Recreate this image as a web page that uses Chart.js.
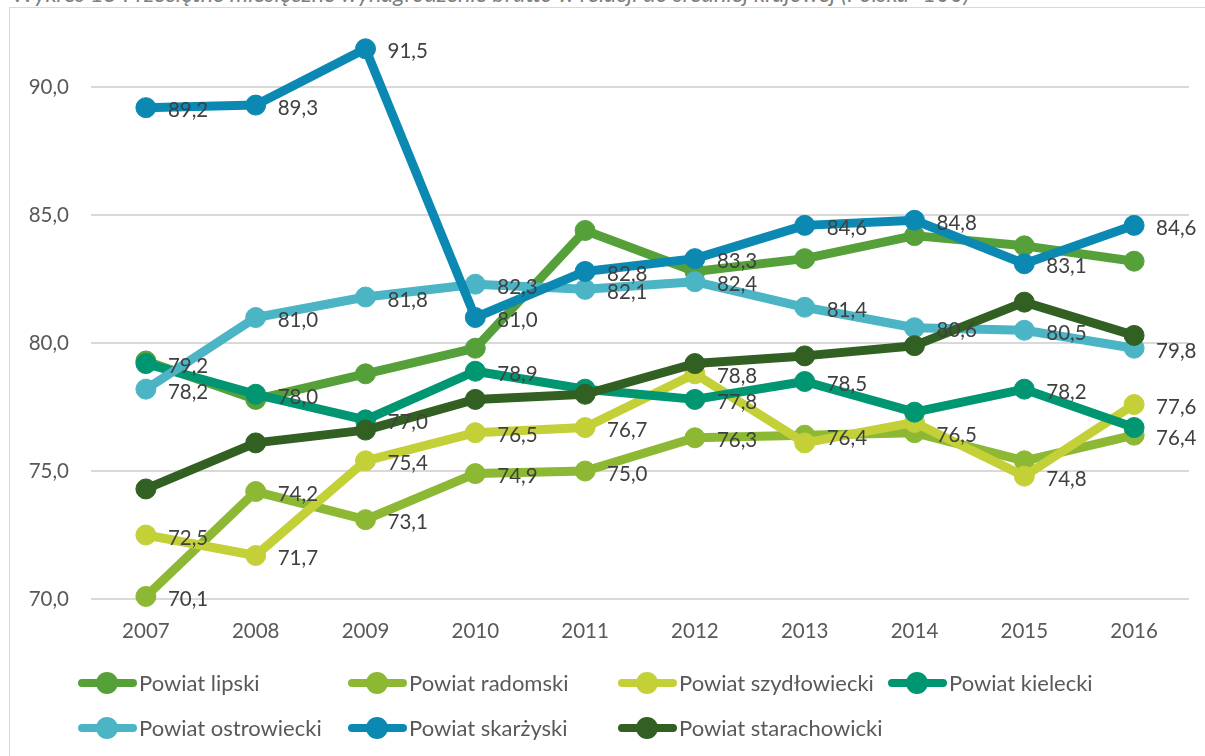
<!DOCTYPE html>
<html>
<head>
<meta charset="utf-8">
<script src="https://cdn.jsdelivr.net/npm/chart.js@4"></script>
<style>
  body { margin: 0; background: #fff; font-family: Lato, sans-serif; }
  #wrap { position: relative; width: 1205px; height: 756px; overflow: hidden; }
  #frame { position: absolute; left: 9px; top: 7px; width: 1300px; height: 800px; border: 1px solid #d9d9d9; }
  #title { position: absolute; left: 12px; top: -21px; font: italic 23.5px Lato, sans-serif; color: #7f7f7f; white-space: nowrap; }
  canvas { position: absolute; left: 0; top: 0; }
  .leg { position: absolute; height: 24px; font-size: 22px; color: #595959; line-height: 24px; white-space: nowrap; }
  .leg i { position: absolute; left: 0; top: 8px; width: 59px; height: 8px; border-radius: 4px; }
  .leg b { position: absolute; left: 18px; top: 1px; width: 22px; height: 22px; border-radius: 50%; }
  .leg span { position: absolute; left: 61px; top: 0; }
</style>
</head>
<body>
<div id="wrap">
  <div id="frame"></div>
  <div id="title">Wykres 15 Przeciętne miesięczne wynagrodzenie brutto w relacji do średniej krajowej (Polska=100)</div>
  <canvas id="chart" width="1205" height="756"></canvas>
  <div id="legend"></div>
</div>
<script>
const years = ['2007', '2008', '2009', '2010', '2011', '2012', '2013', '2014', '2015', '2016'];
const yTicks = [70, 75, 80, 85, 90];

const lipski = [79.3, 77.8, 78.8, 79.8, 84.4, 82.8, 83.3, 84.2, 83.8, 83.2];
const radomski = [70.1, 74.2, 73.1, 74.9, 75.0, 76.3, 76.4, 76.5, 75.4, 76.4];
const szydlowiecki = [72.5, 71.7, 75.4, 76.5, 76.7, 78.8, 76.1, 76.9, 74.8, 77.6];
const kielecki = [79.2, 78.0, 77.0, 78.9, 78.2, 77.8, 78.5, 77.3, 78.2, 76.7];
const ostrowiecki = [78.2, 81.0, 81.8, 82.3, 82.1, 82.4, 81.4, 80.6, 80.5, 79.8];
const skarzyski = [89.2, 89.3, 91.5, 81.0, 82.8, 83.3, 84.6, 84.8, 83.1, 84.6];
const starachowicki = [74.3, 76.1, 76.6, 77.8, 78.0, 79.2, 79.5, 79.9, 81.6, 80.3];

// which points carry a value label in the original (1 = shown)
const lblLipski = [0, 0, 0, 0, 0, 0, 0, 0, 0, 0];
const lblRadomski = [1, 1, 1, 1, 1, 1, 1, 1, 0, 1];
const lblSzydlowiecki = [1, 1, 1, 1, 1, 1, 0, 0, 1, 1];
const lblKielecki = [1, 1, 1, 1, 0, 1, 1, 0, 1, 0];
const lblOstrowiecki = [1, 1, 1, 1, 1, 1, 1, 1, 1, 1];
const lblSkarzyski = [1, 1, 1, 1, 1, 1, 1, 1, 1, 1];
const lblStarachowicki = [0, 0, 0, 0, 0, 0, 0, 0, 0, 0];

const series = [
  { name: 'Powiat lipski', data: lipski, color: '#56a03a', lbl: lblLipski },
  { name: 'Powiat radomski', data: radomski, color: '#8cb833', lbl: lblRadomski },
  { name: 'Powiat szydłowiecki', data: szydlowiecki, color: '#c3d038', lbl: lblSzydlowiecki },
  { name: 'Powiat kielecki', data: kielecki, color: '#009672', lbl: lblKielecki },
  { name: 'Powiat ostrowiecki', data: ostrowiecki, color: '#4bb5c6', lbl: lblOstrowiecki },
  { name: 'Powiat skarżyski', data: skarzyski, color: '#0b89b3', lbl: lblSkarzyski },
  { name: 'Powiat starachowicki', data: starachowicki, color: '#325f22', lbl: lblStarachowicki }
];

const fmt = v => v.toFixed(1).replace('.', ',');

// value labels to the right of points
const valueLabels = {
  id: 'valueLabels',
  afterDatasetsDraw(chart) {
    const ctx = chart.ctx;
    ctx.save();
    ctx.font = '20.5px Lato, sans-serif';
    ctx.fillStyle = '#404040';
    ctx.textAlign = 'left';
    ctx.textBaseline = 'middle';
    chart.data.datasets.forEach((ds, i) => {
      const meta = chart.getDatasetMeta(i);
      meta.data.forEach((pt, j) => {
        if (!ds.lbl[j]) return;
        ctx.fillText(fmt(ds.data[j]), pt.x + 22, pt.y + 3);
      });
    });
    ctx.restore();
  }
};

new Chart(document.getElementById('chart'), {
  type: 'line',
  data: {
    labels: years,
    datasets: series.map((s, i) => ({
      label: s.name,
      data: s.data,
      lbl: s.lbl,
      borderColor: s.color,
      backgroundColor: s.color,
      pointBackgroundColor: s.color,
      pointBorderColor: s.color,
      borderWidth: 9,
      pointRadius: 10,
      pointBorderWidth: 1,
      borderJoinStyle: 'round',
      borderCapStyle: 'round',
      tension: 0,
      clip: false,
      order: series.length - i
    }))
  },
  options: {
    responsive: false,
    animation: false,
    events: [],
    layout: { padding: { left: 0, right: 16, top: 36, bottom: 107 } },
    plugins: {
      legend: { display: false },
      tooltip: { enabled: false }
    },
    scales: {
      x: {
        offset: true,
        grid: { display: false, drawTicks: false, offset: true },
        border: { display: false },
        ticks: { font: { family: 'Lato', size: 20.5 }, color: '#595959', padding: 20 },
        afterFit(scale) { scale.height = 50; }
      },
      y: {
        min: 70,
        max: 92,
        afterBuildTicks(scale) { scale.ticks = yTicks.map(v => ({ value: v })); },
        grid: { color: '#d9d9d9', lineWidth: 2, drawTicks: false },
        border: { display: false },
        ticks: { font: { family: 'Lato', size: 20.5 }, color: '#595959', padding: 22, callback: v => fmt(v) },
        afterFit(scale) { scale.width = 91; }
      }
    }
  },
  plugins: [valueLabels]
});

// legend: two rows, fixed columns like the original
const legend = document.getElementById('legend');
series.forEach((s, i) => {
  const row = Math.floor(i / 4), col = i % 4;
  const d = document.createElement('div');
  d.className = 'leg';
  d.style.left = (78 + col * 270) + 'px';
  d.style.top = (671 + row * 45) + 'px';
  d.innerHTML = '<i style="background:' + s.color + '"></i><b style="background:' + s.color + '"></b><span>' + s.name + '</span>';
  legend.appendChild(d);
});
</script>
</body>
</html>
